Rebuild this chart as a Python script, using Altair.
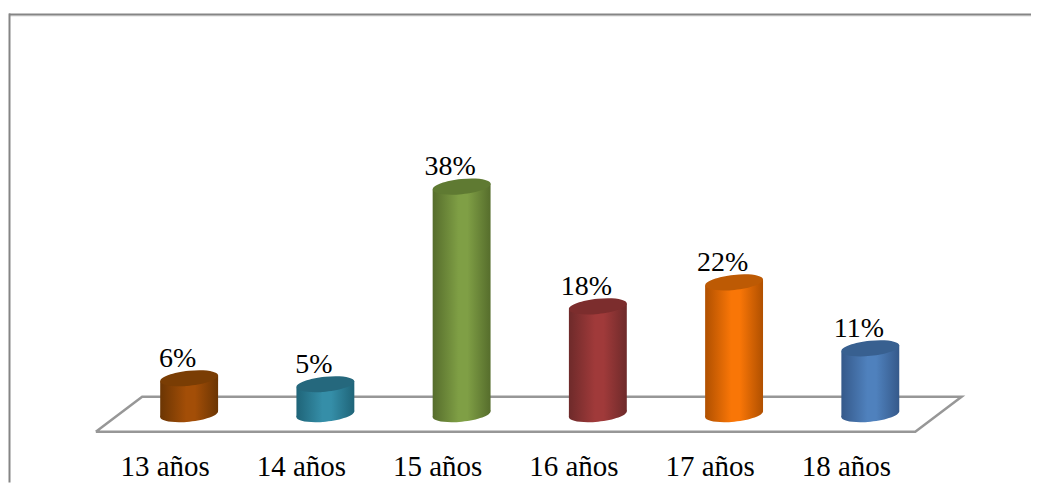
import altair as alt
import pandas as pd

categories = ["13 años", "14 años", "15 años", "16 años", "17 años", "18 años"]
values = [6, 5, 38, 18, 22, 11]
edge_colors = ["#6b3503", "#1f6478", "#566d2c", "#6e2a2a", "#b05000", "#35598a"]
mid_colors = ["#a34e07", "#358ea8", "#7f9f45", "#a03a3a", "#f97607", "#4f81bd"]
top_colors = ["#7a3d04", "#25687d", "#5f7a32", "#7c2d2d", "#bd5a04", "#386090"]
floor_x = [-0.685, -0.345, 5.67, 5.33, -0.685]
floor_y = [-2.92, 2.92, 2.92, -2.92, -2.92]

HALF = 0.2125
TILT = 0.5
ELLIPSE = "M -1 0.1 A 1.005 0.26 -6 1 1 1 -0.1 A 1.005 0.26 -6 1 1 -1 0.1 Z"

W, H = 1024, 442
x_scale = alt.Scale(domain=[-(188.5 - 8) / 136.5, -(188.5 - 8) / 136.5 + W / 136.5], nice=False, zero=False)
y_scale = alt.Scale(domain=[(414.5 - 450) / 6, (414.5 - 8) / 6], nice=False, zero=False)

labels_js = "[" + ",".join(f"'{c}'" for c in categories) + "][datum.value]"
x_axis = alt.Axis(
    values=list(range(len(categories))), labelExpr=labels_js, title=None, grid=False,
    domain=False, ticks=False, labelFont="Liberation Serif", labelFontSize=29,
    labelColor="#000000", labelPadding=26, labelBaseline="alphabetic", labelOverlap=False,
    labelOffset=-24.5,
)
X = alt.X("x:Q", scale=x_scale, axis=x_axis)
Y = alt.Y("y:Q", scale=y_scale, axis=None)

frame_top = alt.Chart(pd.DataFrame({"a": [0]})).mark_rule(color="#858585", strokeWidth=2).encode(
    x=alt.value(0), x2=alt.value(W), y=alt.value(6))
frame_top_shadow = alt.Chart(pd.DataFrame({"a": [0]})).mark_rule(color="#d9d9d9", strokeWidth=1).encode(
    x=alt.value(0), x2=alt.value(W), y=alt.value(7.5))
frame_left = alt.Chart(pd.DataFrame({"a": [0]})).mark_rule(color="#858585", strokeWidth=2).encode(
    x=alt.value(0.5), y=alt.value(5), y2=alt.value(H + 33))

floor = alt.Chart(pd.DataFrame({"x": floor_x, "y": floor_y, "o": range(5)})).mark_line(
    color="#979797", strokeWidth=2.5, strokeJoin="miter"
).encode(x=X, y=Y, order="o:Q")

layers = [frame_top_shadow, frame_top, frame_left, floor]
for i, (v, e, m, t) in enumerate(zip(values, edge_colors, mid_colors, top_colors)):
    grad = alt.Gradient(
        gradient="linear", x1=0, x2=1, y1=0, y2=0,
        stops=[alt.GradientStop(offset=0, color=e), alt.GradientStop(offset=0.45, color=m),
               alt.GradientStop(offset=0.6, color=m), alt.GradientStop(offset=1, color=e)],
    )
    side = pd.DataFrame({
        "x": [i - HALF, i + HALF],
        "y": [v - TILT, v + TILT],
        "y2": [-TILT, TILT],
    })
    one = pd.DataFrame({"x": [i], "y": [v], "base": [0]})
    layers.append(alt.Chart(one).mark_point(shape=ELLIPSE, size=3364, filled=True, fill=grad, opacity=1, strokeWidth=0).encode(
        x=X, y=alt.Y("base:Q", scale=y_scale, axis=None)))
    layers.append(alt.Chart(side).mark_area(fill=grad, opacity=1).encode(x=X, y=Y, y2="y2:Q"))
    layers.append(alt.Chart(one).mark_point(shape=ELLIPSE, size=3364, filled=True, fill=t, opacity=1, strokeWidth=0).encode(x=X, y=Y))

text_df = pd.DataFrame({"x": list(range(6)), "y": values, "t": [f"{v}%" for v in values]})
layers.append(alt.Chart(text_df).mark_text(
    font="Liberation Serif", fontSize=28, color="#000000", baseline="alphabetic", dy=-11.5, dx=-11.5
).encode(x=X, y=Y, text="t:N"))

chart = alt.layer(*layers).properties(
    width=W, height=H, padding=0,
    background="#ffffff",
).configure_view(stroke=None)

chart.save("out.html", embed_options={"renderer": "svg", "actions": False})
